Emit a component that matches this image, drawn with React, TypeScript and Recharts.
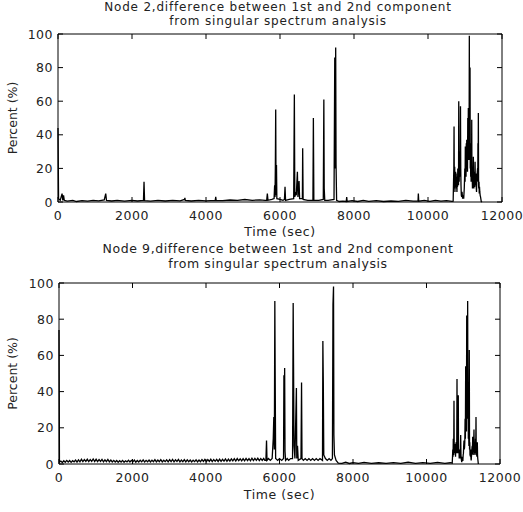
import React from 'react';
import { LineChart, Line, XAxis, YAxis, ReferenceLine } from 'recharts';

type P = [number, number];

const xTicks = [0, 2000, 4000, 6000, 8000, 10000, 12000];
const yTicks = [0, 20, 40, 60, 80, 100];
const xLabel = 'Time (sec)';
const yLabel = 'Percent (%)';

const node2Title = ['Node 2,difference between 1st and 2nd component', 'from singular spectrum analysis'];
const node9Title = ['Node 9,difference between 1st and 2nd component', 'from singular spectrum analysis'];

// Node 2 samples [time (sec), percent]
const node2Early: P[] = [
  [0, 44], [15, 2], [60, 1], [110, 5], [130, 1], [150, 4], [170, 1], [250, 0.5], [400, 1], [500, 0.3],
  [650, 0.8], [800, 0.5], [950, 1], [1100, 0.7], [1250, 1.2], [1290, 5], [1310, 1], [1450, 0.6], [1600, 1],
  [1800, 0.5], [2000, 1], [2150, 0.6], [2310, 1], [2325, 12], [2340, 0.8], [2500, 0.5], [2700, 1], [2900, 0.6],
  [3100, 1], [3300, 0.7], [3420, 1.5], [3430, 2.5], [3440, 1], [3600, 0.6], [3800, 1], [4000, 0.7], [4250, 1],
  [4263, 3], [4275, 1], [4450, 0.8], [4650, 1.2], [4850, 1], [5050, 1.5], [5250, 1], [5450, 1.3], [5600, 1],
];
const node2Mid: P[] = [
  [5640, 1], [5658, 5], [5675, 1], [5780, 1.5], [5840, 2], [5855, 10], [5865, 3], [5875, 22], [5884, 55],
  [5893, 4], [5905, 22], [5915, 2], [6000, 1.5], [6080, 1], [6120, 1.5], [6136, 9], [6150, 1], [6250, 1.5],
  [6370, 2], [6388, 64], [6400, 3], [6420, 5], [6440, 4], [6470, 18], [6485, 3], [6515, 12.5], [6530, 2],
  [6605, 2], [6613, 32], [6625, 1.5], [6750, 1], [6890, 1], [6902, 50], [6915, 1], [7050, 1], [7170, 1.5],
  [7185, 61], [7195, 8], [7210, 1], [7300, 1], [7460, 1.5], [7480, 86], [7495, 20], [7505, 92], [7515, 22],
  [7530, 1], [7600, 0.3],
];
const node2Late: P[] = [
  [7700, 0.5], [7790, 0.3], [7803, 3], [7815, 0.3], [7950, 0.8], [8100, 0.3], [8250, 1], [8400, 0.4],
  [8600, 0.8], [8800, 0.3], [9000, 0.6], [9200, 0.4], [9400, 1], [9600, 0.5], [9730, 0.5], [9739, 5],
  [9750, 0.5], [9900, 1], [10050, 0.4], [10200, 1], [10350, 0.5], [10500, 0.8], [10650, 0.4],
];
const node2Cluster: P[] = [
  [10680, 0.5], [10690, 12], [10698, 20], [10704, 45], [10710, 15], [10716, 8], [10722, 21], [10728, 6],
  [10734, 16], [10740, 9], [10747, 18], [10754, 10], [10761, 17], [10768, 8], [10775, 14], [10782, 6],
  [10790, 15], [10798, 9], [10805, 20], [10812, 12], [10818, 18], [10825, 10], [10831, 60], [10837, 20],
  [10843, 12], [10850, 22], [10856, 15], [10863, 30], [10870, 18], [10878, 57], [10885, 20], [10892, 10],
  [10900, 4], [10910, 3], [10920, 6], [10935, 2], [10950, 3], [10965, 2], [10980, 8], [10988, 14],
  [10995, 20], [11002, 12], [11009, 33], [11015, 18], [11022, 25], [11028, 15], [11035, 35], [11041, 20],
  [11047, 37], [11054, 22], [11060, 30], [11067, 18], [11075, 50], [11082, 25], [11090, 56], [11097, 30],
  [11103, 40], [11110, 25], [11117, 99], [11122, 40], [11127, 60], [11131, 30], [11136, 80], [11142, 20],
  [11148, 30], [11154, 15], [11160, 20], [11166, 12], [11172, 35], [11177, 18], [11182, 49], [11188, 12],
  [11195, 15], [11202, 8], [11210, 10], [11218, 14], [11226, 27], [11233, 10], [11240, 8], [11248, 18],
  [11255, 15], [11263, 9], [11272, 24], [11279, 12], [11285, 10], [11292, 16], [11299, 17], [11306, 8],
  [11312, 6], [11318, 14], [11325, 12], [11332, 18], [11340, 20], [11345, 12], [11350, 35], [11356, 15],
  [11361, 53], [11367, 10], [11372, 8], [11379, 12], [11385, 5], [11392, 9], [11400, 6], [11410, 4],
  [11420, 3], [11440, 0.3], [11460, 0],
];

// Node 9 samples [time (sec), percent]
const node9Early: P[] = [
  [0, 74], [12, 1], [50, 1.6], [90, 0.8], [130, 1.8], [170, 1], [210, 2], [250, 1.1], [290, 1.9], [330, 0.9],
  [370, 1.8], [410, 1.2], [450, 2.2], [490, 1.1], [530, 2.3], [570, 1.2], [610, 2.6], [650, 1.3], [690, 2.4],
  [730, 1.4], [770, 2.6], [810, 1.3], [850, 2.5], [890, 1.5], [930, 2.8], [970, 1.4], [1010, 2.6], [1050, 1.3],
  [1090, 2.4], [1130, 1.4], [1170, 2.5], [1210, 1.2], [1250, 2.3], [1290, 1.3], [1330, 2.5], [1370, 1.2],
  [1410, 2.2], [1450, 1.1], [1490, 2], [1530, 1.1], [1570, 1.9], [1610, 1], [1650, 1.8], [1690, 1.1],
  [1730, 2], [1770, 1], [1810, 1.8], [1850, 1.2], [1890, 2.1], [1930, 1.1], [1970, 2], [2010, 1.2],
  [2050, 2.2], [2090, 1], [2130, 1.9], [2170, 1.1], [2210, 2.1], [2250, 1.2], [2290, 2.3], [2330, 1.1],
  [2370, 2], [2410, 1.2], [2450, 2.2], [2490, 1.1], [2530, 2.1], [2570, 1.3], [2610, 2.4], [2650, 1.2],
  [2690, 2.2], [2730, 1.3], [2770, 2.4], [2810, 1.2], [2850, 2.1], [2890, 1.3], [2930, 2.3], [2970, 1.2],
  [3010, 2.4], [3050, 1.3], [3090, 2.5], [3130, 1.2], [3170, 2.3], [3210, 1.4], [3250, 2.5], [3290, 1.2],
  [3330, 2.2], [3370, 1.3], [3410, 2.4], [3450, 1.2], [3490, 2.3], [3530, 1.3], [3570, 2.2], [3610, 1.1],
  [3650, 2.1], [3690, 1.3], [3730, 2.3], [3770, 1.2], [3810, 2.2], [3850, 1.3], [3890, 2.4], [3930, 1.4],
  [3970, 2.5], [4010, 1.3], [4050, 2.4], [4090, 1.4], [4130, 2.6], [4170, 1.3], [4210, 2.5], [4250, 1.5],
  [4290, 2.6], [4330, 1.4], [4370, 2.7], [4410, 1.5], [4450, 2.6], [4490, 1.6], [4530, 2.8], [4570, 1.5],
  [4610, 2.7], [4650, 1.6], [4690, 2.8], [4730, 1.7], [4770, 2.9], [4810, 1.6], [4850, 3], [4890, 1.8],
  [4930, 2.9], [4970, 1.7], [5010, 3], [5050, 1.8], [5090, 3.1], [5130, 1.9], [5170, 3], [5210, 1.8],
  [5250, 3.2], [5290, 1.9], [5330, 3.1], [5370, 2], [5410, 3.2], [5450, 1.9], [5490, 3], [5530, 2],
  [5570, 3.1], [5600, 2],
];
const node9Mid: P[] = [
  [5630, 2], [5647, 13], [5660, 2], [5700, 3], [5750, 2], [5800, 3], [5830, 14], [5845, 26], [5860, 8],
  [5873, 90], [5882, 51], [5895, 3], [5950, 2], [6000, 3], [6060, 2], [6110, 3], [6120, 49], [6130, 20],
  [6140, 53], [6150, 7], [6165, 2], [6210, 3], [6250, 2], [6300, 3], [6355, 3], [6372, 89], [6382, 55],
  [6395, 10], [6420, 3], [6460, 42], [6470, 3], [6490, 10], [6510, 2], [6585, 3], [6600, 45], [6612, 3],
  [6650, 2], [6700, 3], [6750, 2], [6800, 3], [6850, 2], [6900, 3], [6950, 2], [7000, 3], [7050, 2],
  [7100, 3], [7170, 2], [7180, 68], [7192, 45], [7205, 5], [7250, 3], [7300, 2], [7350, 3], [7400, 2],
  [7440, 3], [7455, 88], [7470, 98], [7480, 16], [7495, 5], [7540, 2], [7600, 0.5],
];
const node9Late: P[] = [
  [7700, 0.4], [7800, 1], [7900, 0.3], [8000, 0.8], [8150, 0.3], [8300, 0.9], [8500, 0.3], [8700, 0.7],
  [8900, 0.3], [9100, 0.8], [9300, 0.4], [9500, 1], [9700, 0.3], [9900, 0.8], [10100, 0.4], [10300, 0.9],
  [10500, 0.3], [10650, 0.7],
];
const node9Cluster: P[] = [
  [10700, 0.5], [10708, 4], [10715, 8], [10722, 4], [10729, 14], [10735, 6], [10740, 5], [10748, 35],
  [10754, 8], [10760, 6], [10767, 11], [10775, 7], [10782, 10], [10790, 4], [10797, 9], [10805, 12],
  [10812, 6], [10818, 8], [10824, 12], [10830, 47], [10836, 12], [10842, 10], [10848, 6], [10853, 9],
  [10859, 14], [10865, 38], [10871, 9], [10877, 6], [10884, 8], [10890, 3], [10898, 7], [10905, 8],
  [10912, 3], [10918, 6], [10924, 9], [10930, 16], [10938, 5], [10945, 3], [10952, 2], [10960, 1],
  [10968, 3], [10975, 4], [10982, 2], [10990, 2], [10998, 5], [11005, 6], [11012, 10], [11020, 13],
  [11028, 8], [11035, 9], [11042, 12], [11050, 25], [11058, 14], [11066, 54], [11073, 20], [11080, 30],
  [11087, 18], [11094, 82], [11100, 30], [11107, 45], [11113, 25], [11120, 90], [11126, 30], [11132, 40],
  [11138, 14], [11145, 20], [11154, 10], [11164, 63], [11171, 8], [11178, 12], [11184, 5], [11190, 5],
  [11197, 4], [11203, 8], [11210, 3], [11216, 2], [11223, 4], [11230, 6], [11238, 9], [11245, 10],
  [11251, 7], [11257, 15], [11264, 6], [11270, 5], [11278, 9], [11285, 12], [11292, 19], [11298, 9],
  [11305, 8], [11312, 6], [11320, 5], [11327, 9], [11335, 14], [11341, 9], [11347, 26], [11353, 8],
  [11360, 6], [11366, 5], [11372, 4], [11378, 7], [11383, 12], [11389, 5], [11395, 3], [11410, 0],
];

const toRows = (parts: P[][]) => parts.flat().map(([t, v]) => ({ t, v }));
const node2Data = toRows([node2Early, node2Mid, node2Late, node2Cluster]);
const node9Data = toRows([node9Early, node9Mid, node9Late, node9Cluster]);

const FONT = '"DejaVu Sans", Verdana, sans-serif';
const TXT = '#222';
const FS = 12.5;
const W = 523;
const H = 256;

interface PanelProps {
  data: { t: number; v: number }[];
  title: string[];
  top: number;
  right: number;
  yWidth: number;
  plotH: number;
  xTickDy: number;
  xLabelOffset: number;
  titleTop: number;
  titleLH: number;
  titleFS: number;
  titleLS: number;
}

function Panel(p: PanelProps) {
  const xAxisH = H - p.top - p.plotH;
  const rightX = W - p.right;
  const XTick = (props: any) => {
    const { x, y, payload } = props;
    return (
      <g>
        <line x1={x} y1={y} x2={x} y2={y - 5} stroke="#000" />
        <line x1={x} y1={p.top} x2={x} y2={p.top + 5} stroke="#000" />
        <text x={x} y={y + p.xTickDy} textAnchor="middle" fontFamily={FONT} fontSize={FS} fill={TXT} letterSpacing={0.5}>
          {payload.value}
        </text>
      </g>
    );
  };
  const YTick = (props: any) => {
    const { x, y, payload } = props;
    return (
      <g>
        <line x1={x} y1={y} x2={x + 5} y2={y} stroke="#000" />
        <line x1={rightX} y1={y} x2={rightX - 5} y2={y} stroke="#000" />
        <text x={x - 5} y={y + 4.6} textAnchor="end" fontFamily={FONT} fontSize={FS} fill={TXT} letterSpacing={0.5}>
          {payload.value}
        </text>
      </g>
    );
  };
  return (
    <div style={{ position: 'relative', width: W, height: H }}>
      <div
        style={{
          position: 'absolute',
          left: 0,
          top: p.titleTop,
          width: 556,
          textAlign: 'center',
          fontFamily: FONT,
          fontSize: p.titleFS,
          lineHeight: `${p.titleLH}px`,
          letterSpacing: p.titleLS,
          color: TXT,
          whiteSpace: 'nowrap',
        }}
      >
        {p.title.map((line, i) => (
          <div key={i}>{line}</div>
        ))}
      </div>
      <LineChart width={W} height={H} data={p.data} margin={{ top: p.top, right: p.right, bottom: 0, left: 0 }}>
        <XAxis
          dataKey="t"
          type="number"
          domain={[0, 12000]}
          ticks={xTicks}
          interval={0}
          height={xAxisH}
          tickSize={0}
          tickMargin={0}
          tickLine={false}
          axisLine={{ stroke: '#000' }}
          tick={XTick}
          label={{
            value: xLabel,
            position: 'insideTop',
            offset: p.xLabelOffset,
            style: { fontFamily: FONT, fontSize: FS, fill: TXT, letterSpacing: 0.6 },
          }}
        />
        <YAxis
          type="number"
          domain={[0, 100]}
          ticks={yTicks}
          interval={0}
          width={p.yWidth}
          tickSize={0}
          tickMargin={0}
          tickLine={false}
          axisLine={{ stroke: '#000' }}
          tick={YTick}
          label={{
            value: yLabel,
            angle: -90,
            position: 'insideLeft',
            offset: 13,
            style: { fontFamily: FONT, fontSize: FS, fill: TXT, textAnchor: 'middle' },
          }}
        />
        <ReferenceLine y={100} stroke="#000" />
        <ReferenceLine x={12000} stroke="#000" />
        <Line
          dataKey="v"
          type="linear"
          stroke="#000"
          strokeWidth={1.3}
          dot={false}
          activeDot={false}
          isAnimationActive={false}
        />
      </LineChart>
    </div>
  );
}

export default function App() {
  return (
    <div style={{ position: 'absolute', left: 0, top: 0, width: W, height: 512, background: '#fff', overflow: 'hidden' }}>
      <Panel
        data={node2Data}
        title={node2Title}
        top={34}
        right={21}
        yWidth={58}
        plotH={168}
        xTickDy={17.5}
        xLabelOffset={25.5}
        titleTop={0}
        titleLH={14}
        titleFS={12}
        titleLS={0.8}
      />
      <Panel
        data={node9Data}
        title={node9Title}
        top={27}
        right={23}
        yWidth={59}
        plotH={181}
        xTickDy={18}
        xLabelOffset={26}
        titleTop={-15.1}
        titleLH={15.5}
        titleFS={12.5}
        titleLS={0.6}
      />
    </div>
  );
}
